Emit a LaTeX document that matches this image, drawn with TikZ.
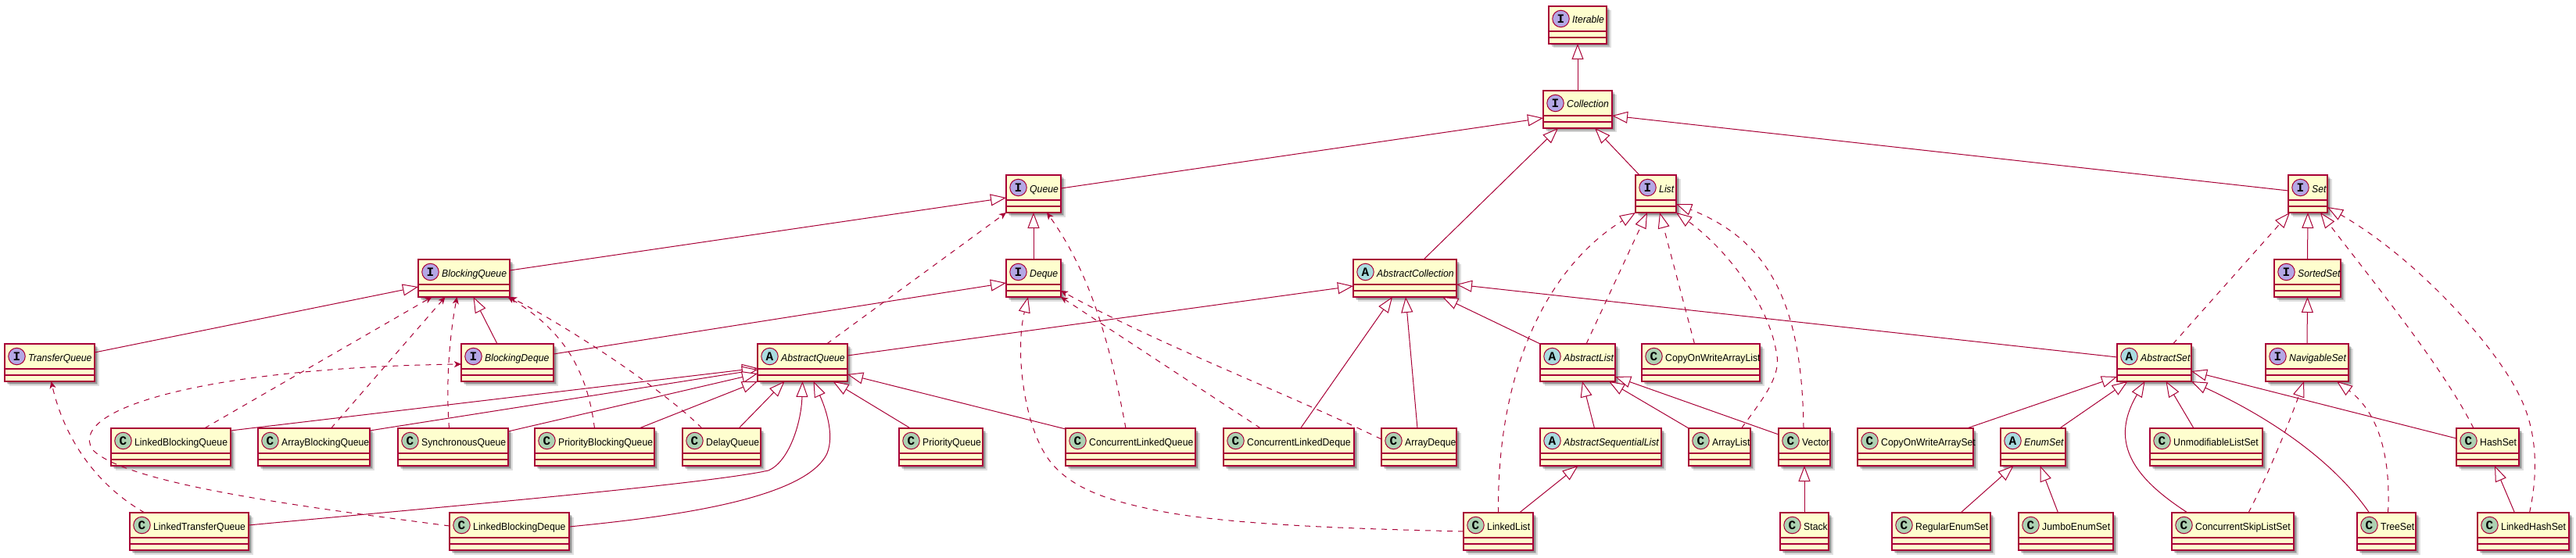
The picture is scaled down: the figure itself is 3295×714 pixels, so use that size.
\documentclass[tikz,border=0pt]{standalone}
\usepackage{fontspec}
\setmainfont[FakeStretch=0.94]{Liberation Sans}
\newfontfamily\badgefont{Liberation Mono}
\usepackage{xcolor}
\usetikzlibrary{calc,positioning,arrows.meta,shadows}
\definecolor{umlRed}{HTML}{A80036}
\definecolor{umlFill}{HTML}{FEFECE}
\definecolor{badgeI}{HTML}{B4A7E5}
\definecolor{badgeA}{HTML}{A9DCDF}
\definecolor{badgeC}{HTML}{ADD1B2}

% class box: kind letter, name face, name, left, top, width
\newcommand{\umlbox}[6]{
  \node[classbox, minimum width=#6pt] (#3) at (#4,#5) {};
  \draw[classline] ($(#3.north west)+(0,32)$) -- ($(#3.north east)+(0,32)$);
  \draw[classline] ($(#3.north west)+(0,40)$) -- ($(#3.north east)+(0,40)$);
  \node[badge, fill=badge#1] (#3-badge) at ($(#3.north west)+(15.5,16)$) {#1};
  \node[classname, font=\fontsize{13}{15}\selectfont#2] (#3-name) at ($(#3.north west)+(30,22)$) {#3};
}

\begin{document}
\begin{tikzpicture}[
  x=1pt, y=-1pt,
  >={Stealth[length=9pt,width=8pt,inset=2.5pt]},
  classbox/.style={draw=umlRed, fill=umlFill, line width=1.5pt, anchor=north west,
    minimum height=48pt, inner sep=0pt, outer sep=0pt,
    drop shadow={shadow xshift=5.5pt, shadow yshift=-5.5pt, opacity=0.12, fill=black},
    drop shadow={shadow xshift=4pt, shadow yshift=-4pt, opacity=0.16, fill=black},
    drop shadow={shadow xshift=2.5pt, shadow yshift=-2.5pt, opacity=0.2, fill=black}},
  classline/.style={umlRed, line width=1.5pt},
  badge/.style={circle, draw=umlRed, line width=1pt, minimum size=21.5pt, inner sep=0pt,
    font=\badgefont\bfseries\fontsize{16}{16}\selectfont},
  classname/.style={anchor=base west, inner sep=0pt},
  extLine/.style={umlRed, line width=1pt, -{Triangle[fill=white,length=20pt,width=15pt]}},
  implLine/.style={extLine, dash pattern=on 7pt off 7pt},
  depLine/.style={umlRed, line width=1pt, dash pattern=on 7pt off 7pt, ->},
]
\useasboundingbox (0,0) rectangle (3295,714);

% --- Interfaces ---
\foreach \nm/\xx/\yy/\ww in {Iterable/1981/8/74, Collection/1974/116/88, Queue/1287/224/70,
    List/2092/224/52, Set/2927/224/50, Deque/1287/332/70, BlockingQueue/535/332/117,
    SortedSet/2909/332/85, TransferQueue/6/440/115, BlockingDeque/590/440/118,
    NavigableSet/2898/440/106} {
  \umlbox{I}{\itshape}{\nm}{\xx}{\yy}{\ww}
}

% --- Abstract classes ---
\foreach \nm/\xx/\yy/\ww in {AbstractCollection/1731/332/132, AbstractQueue/969/440/115,
    AbstractList/1970/440/96, AbstractSet/2708/440/95, AbstractSequentialList/1970/548/155,
    EnumSet/2559/548/83} {
  \umlbox{A}{\itshape}{\nm}{\xx}{\yy}{\ww}
}

% --- Concrete classes ---
\foreach \nm/\xx/\yy/\ww in {CopyOnWriteArrayList/2100/440/151, LinkedBlockingQueue/142/548/153,
    ArrayBlockingQueue/330/548/143, SynchronousQueue/509/548/141, PriorityBlockingQueue/684/548/153,
    DelayQueue/873/548/100, PriorityQueue/1150/548/107, ConcurrentLinkedQueue/1363/548/166,
    ConcurrentLinkedDeque/1565/548/167, ArrayDeque/1767/548/96, ArrayList/2160/548/79,
    Vector/2275/548/66, CopyOnWriteArraySet/2376/548/148, UnmodifiableListSet/2750/548/144,
    HashSet/3142/548/80, LinkedTransferQueue/166/656/152, LinkedBlockingDeque/575/656/153,
    LinkedList/1872/656/89, Stack/2277/656/62, RegularEnumSet/2420/656/126,
    JumboEnumSet/2582/656/121, ConcurrentSkipListSet/2778/656/156, TreeSet/3015/656/75,
    LinkedHashSet/3169/656/117} {
  \umlbox{C}{}{\nm}{\xx}{\yy}{\ww}
}

% --- Collection branches ---
\draw[extLine] (Collection.north) -- (Iterable.south);
\draw[extLine] ([yshift=7pt]Queue.east) -- ([yshift=-11pt]Collection.west);
\draw[extLine] ([xshift=24pt]AbstractCollection.north) -- ([xshift=-25pt]Collection.south);
\draw[extLine] ([xshift=-21pt]List.north) -- ([xshift=22pt]Collection.south);
\draw[extLine] ([yshift=4pt]Set.west) -- ([yshift=-8pt]Collection.east);

% --- Queue family ---
\draw[extLine] ([yshift=10pt]BlockingQueue.east) -- ([yshift=-5pt]Queue.west);
\draw[extLine] (Deque.north) -- (Queue.south);
\draw[extLine] ([yshift=11pt]BlockingDeque.east) -- ([yshift=-6pt]Deque.west);
\draw[extLine] ([yshift=13pt]TransferQueue.east) -- ([yshift=-11pt]BlockingQueue.west);
\draw[extLine] ([xshift=-13pt]BlockingDeque.north) -- ([xshift=12pt]BlockingQueue.south);
\draw[depLine] ([xshift=31pt]AbstractQueue.north) -- (Queue.south west);
\draw[depLine] ([xshift=-6pt]ConcurrentLinkedQueue.north)
  .. controls (1420,440) and (1395,350) .. ([xshift=17pt]Queue.south);
\draw[depLine] ([xshift=-36pt]ConcurrentLinkedDeque.north) -- (Deque.south east);
\draw[depLine] ([yshift=10pt]ArrayDeque.west)
  .. controls (1650,505) and (1480,440) .. ([yshift=-16pt]Deque.east);
\draw[implLine] (LinkedList.west)
  .. controls (1700,676) and (1550,670) .. (1465,650)
  .. controls (1420,640) and (1365,625) .. (1338,583)
  .. controls (1310,540) and (1298,450) .. ([xshift=-7pt]Deque.south);

% --- BlockingQueue and friends ---
\draw[depLine] ([xshift=43pt]LinkedBlockingQueue.north) -- ([xshift=-41pt]BlockingQueue.south);
\draw[depLine] ([xshift=22pt]ArrayBlockingQueue.north) -- ([xshift=-24pt]BlockingQueue.south);
\draw[depLine] ([xshift=-5pt]SynchronousQueue.north)
  .. controls (570,490) and (575,430) .. ([xshift=-9pt]BlockingQueue.south);
\draw[depLine] (PriorityBlockingQueue.north)
  .. controls (752,480) and (725,425) .. ([xshift=56pt]BlockingQueue.south);
\draw[depLine] ([xshift=-25pt]DelayQueue.north)
  .. controls (850,500) and (730,420) .. (BlockingQueue.south east);
\draw[depLine] ([yshift=7pt]LinkedBlockingDeque.west)
  .. controls (400,650) and (160,620) .. (118,575)
  .. controls (85,520) and (280,470) .. ([yshift=-2pt]BlockingDeque.west);
\draw[depLine] ([xshift=-57pt]LinkedTransferQueue.north)
  .. controls (122,620) and (82,560) .. ([xshift=2pt]TransferQueue.south);

% --- AbstractCollection ---
\draw[extLine] ([yshift=9pt]AbstractQueue.east) -- ([yshift=-10pt]AbstractCollection.west);
\draw[extLine] ([xshift=15pt]ConcurrentLinkedDeque.north) -- ([xshift=-16pt]AbstractCollection.south);
\draw[extLine] ([xshift=-2pt]ArrayDeque.north) -- ([xshift=1pt]AbstractCollection.south);
\draw[extLine] (AbstractList.north west) -- ([xshift=48pt]AbstractCollection.south);
\draw[extLine] ([yshift=7pt]AbstractSet.west) -- ([yshift=-8pt]AbstractCollection.east);

% --- AbstractQueue ---
\draw[extLine] ([yshift=21pt]LinkedBlockingQueue.east) -- ([yshift=-7pt]AbstractQueue.west);
\draw[extLine] ([yshift=21pt]ArrayBlockingQueue.east) -- ([yshift=-9pt]AbstractQueue.west);
\draw[extLine] ([yshift=20pt]SynchronousQueue.east) -- ([yshift=-14pt]AbstractQueue.west);
\draw[extLine] ([xshift=57pt]PriorityBlockingQueue.north) -- (AbstractQueue.south west);
\draw[extLine] ([xshift=22pt]DelayQueue.north) -- ([xshift=-23pt]AbstractQueue.south);
\draw[extLine] ([yshift=8pt]LinkedTransferQueue.east)
  .. controls (550,650) and (900,620) .. (983,602)
  .. controls (1010,590) and (1025,540) .. (AbstractQueue.south);
\draw[extLine] ([yshift=6pt]LinkedBlockingDeque.east)
  .. controls (850,662) and (1030,640) .. (1058,580)
  .. controls (1068,555) and (1055,520) .. ([xshift=14pt]AbstractQueue.south);
\draw[extLine] ([xshift=-39pt]PriorityQueue.north) -- ([xshift=39pt]AbstractQueue.south);
\draw[extLine] ([yshift=23pt]ConcurrentLinkedQueue.west) -- ([yshift=-15pt]AbstractQueue.east);

% --- List family ---
\draw[implLine] ([xshift=11pt]AbstractList.north) -- ([xshift=-11pt]List.south);
\draw[implLine] ([xshift=-8pt]CopyOnWriteArrayList.north) -- ([xshift=5pt]List.south);
\draw[implLine] ([xshift=28pt]ArrayList.north)
  .. controls (2255,510) and (2280,480) .. (2272,450)
  .. controls (2262,390) and (2210,320) .. (List.south east);
\draw[implLine] ([xshift=-1pt]Vector.north)
  .. controls (2305,400) and (2270,310) .. ([yshift=-13pt]List.east);
\draw[implLine] (LinkedList.north)
  .. controls (1915,480) and (1975,345) .. (List.south west);
\draw[extLine] ([xshift=-8pt]AbstractSequentialList.north) -- ([xshift=6pt]AbstractList.south);
\draw[extLine] (ArrayList.north west) -- ([xshift=40pt]AbstractList.south);
\draw[extLine] ([yshift=16pt]Vector.west) -- ([yshift=-18pt]AbstractList.east);
\draw[extLine] ([xshift=27pt]LinkedList.north) -- ([xshift=-29pt]AbstractSequentialList.south);
\draw[extLine] (Stack.north) -- (Vector.south);

% --- Set family ---
\draw[extLine] (SortedSet.north) -- (Set.south);
\draw[extLine] (NavigableSet.north) -- (SortedSet.south);
\draw[implLine] ([xshift=24pt]AbstractSet.north) -- ([xshift=-23pt]Set.south);
\draw[implLine] ([xshift=-18pt]HashSet.north)
  .. controls (3125,470) and (3035,360) .. ([xshift=16pt]Set.south);
\draw[implLine] ([xshift=8pt]LinkedHashSet.north)
  .. controls (3250,590) and (3240,540) .. (3222,505)
  .. controls (3190,440) and (3090,330) .. ([yshift=-17pt]Set.east);
\draw[implLine] ([xshift=20pt]ConcurrentSkipListSet.north)
  .. controls (2905,600) and (2932,530) .. ([xshift=-4pt]NavigableSet.south);
\draw[implLine] ([xshift=2pt]TreeSet.north)
  .. controls (3058,590) and (3045,530) .. ([xshift=38pt]NavigableSet.south);
\draw[extLine] ([xshift=66pt]CopyOnWriteArraySet.north) -- ([yshift=-18pt]AbstractSet.west);
\draw[extLine] ([xshift=34pt]EnumSet.north) -- ([xshift=-34pt]AbstractSet.south);
\draw[extLine] ([xshift=-58pt]ConcurrentSkipListSet.north)
  .. controls (2735,615) and (2695,570) .. ([xshift=-12pt]AbstractSet.south);
\draw[extLine] ([xshift=-16pt]UnmodifiableListSet.north) -- ([xshift=15pt]AbstractSet.south);
\draw[extLine] ([xshift=-22pt]TreeSet.north)
  .. controls (2985,590) and (2905,535) .. (AbstractSet.south east);
\draw[extLine] ([yshift=11pt]HashSet.west) -- ([yshift=-11pt]AbstractSet.east);
\draw[extLine] ([xshift=25pt]RegularEnumSet.north) -- ([xshift=-25pt]EnumSet.south);
\draw[extLine] ([xshift=-10pt]JumboEnumSet.north) -- ([xshift=9pt]EnumSet.south);
\draw[extLine] ([xshift=-11pt]LinkedHashSet.north) -- ([xshift=9pt]HashSet.south);

\end{tikzpicture}
\end{document}
